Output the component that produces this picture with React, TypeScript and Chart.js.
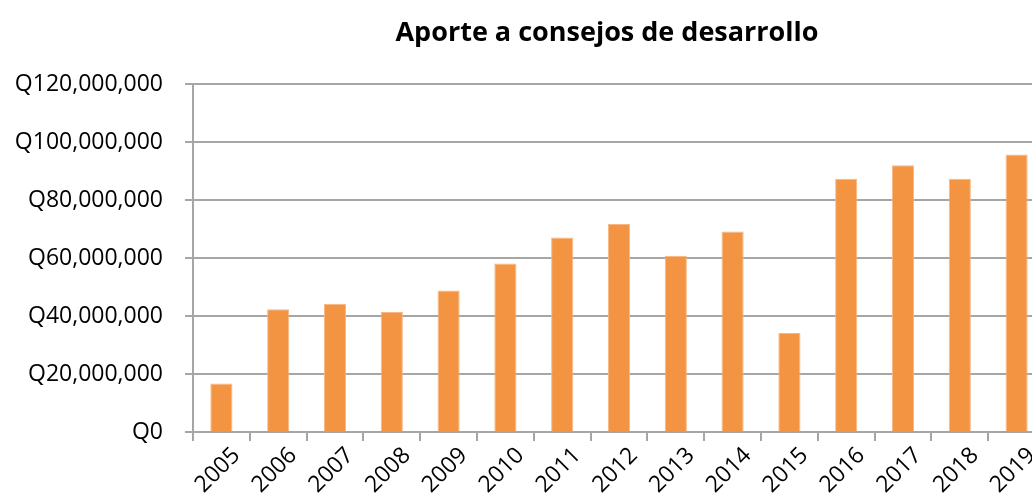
import React, { useEffect, useRef } from "react";
import { Chart, registerables } from "chart.js";

Chart.register(...registerables);

const years = ["2005", "2006", "2007", "2008", "2009", "2010", "2011", "2012", "2013", "2014", "2015", "2016", "2017", "2018", "2019"];
const aportes = [16700000, 42300000, 44200000, 41400000, 48800000, 58100000, 67100000, 71700000, 60800000, 69100000, 34100000, 87300000, 92000000, 87300000, 95700000];
const chartTitle = "Aporte a consejos de desarrollo";
const yMax = 120000000;
const yStep = 20000000;

function formatQ(v: number): string {
  return "Q" + Math.round(v).toLocaleString("en-US");
}

export default function App() {
  const ref = useRef<HTMLCanvasElement | null>(null);
  useEffect(() => {
    if (!ref.current) return;
    const chart = new Chart(ref.current, {
      type: "bar",
      data: {
        labels: years,
        datasets: [
          {
            data: aportes,
            backgroundColor: "#F29441",
            borderColor: "#F7B784",
            borderWidth: { top: 1, left: 1, right: 1, bottom: 0 },
            categoryPercentage: 1,
            barPercentage: 0.39,
          },
        ],
      },
      options: {
        animation: false,
        responsive: false,
        maintainAspectRatio: false,
        layout: { padding: 0 },
        plugins: {
          legend: { display: false },
          tooltip: { enabled: false },
          title: {
            display: true,
            text: chartTitle,
            color: "#000000",
            font: { family: "Open Sans", size: 27, weight: "bold" },
            padding: { top: 17, bottom: 34.6 },
          },
        },
        scales: {
          x: {
            grid: {
              display: true,
              drawOnChartArea: false,
              drawTicks: true,
              tickLength: 9,
              color: "#A6A6A6",
              lineWidth: 2,
              offset: true,
            },
            border: { display: true, color: "#A6A6A6", width: 2 },
            ticks: {
              color: "#000000",
              font: { family: "Open Sans", size: 23 },
              minRotation: 45,
              maxRotation: 45,
              labelOffset: 15,
              padding: 1,
              autoSkip: false,
            },
            afterFit: (scale: any) => {
              scale.height = 64;
            },
          },
          y: {
            min: 0,
            max: yMax,
            grid: {
              color: "#A6A6A6",
              lineWidth: 2,
              tickLength: 8,
              drawTicks: true,
            },
            border: { display: true, color: "#A6A6A6", width: 2 },
            ticks: {
              stepSize: yStep,
              color: "#000000",
              font: { family: "Open Sans", size: 23 },
              padding: 22,
              callback: (v: any) => formatQ(Number(v)),
            },
            afterFit: (scale: any) => {
              scale.width = 193;
            },
          },
          rightSpace: {
            type: "linear",
            position: "right",
            display: true,
            grid: { display: false },
            border: { display: false },
            ticks: { display: false },
            afterFit: (scale: any) => {
              scale.width = 169;
            },
          },
        },
      },
    });
    return () => chart.destroy();
  }, []);
  return (
    <div style={{ position: "fixed", left: 0, top: 0, width: 1032, height: 496, overflow: "hidden", background: "#ffffff" }}>
      <canvas ref={ref} width={1214} height={496} style={{ width: 1214, height: 496, display: "block" }} />
    </div>
  );
}
